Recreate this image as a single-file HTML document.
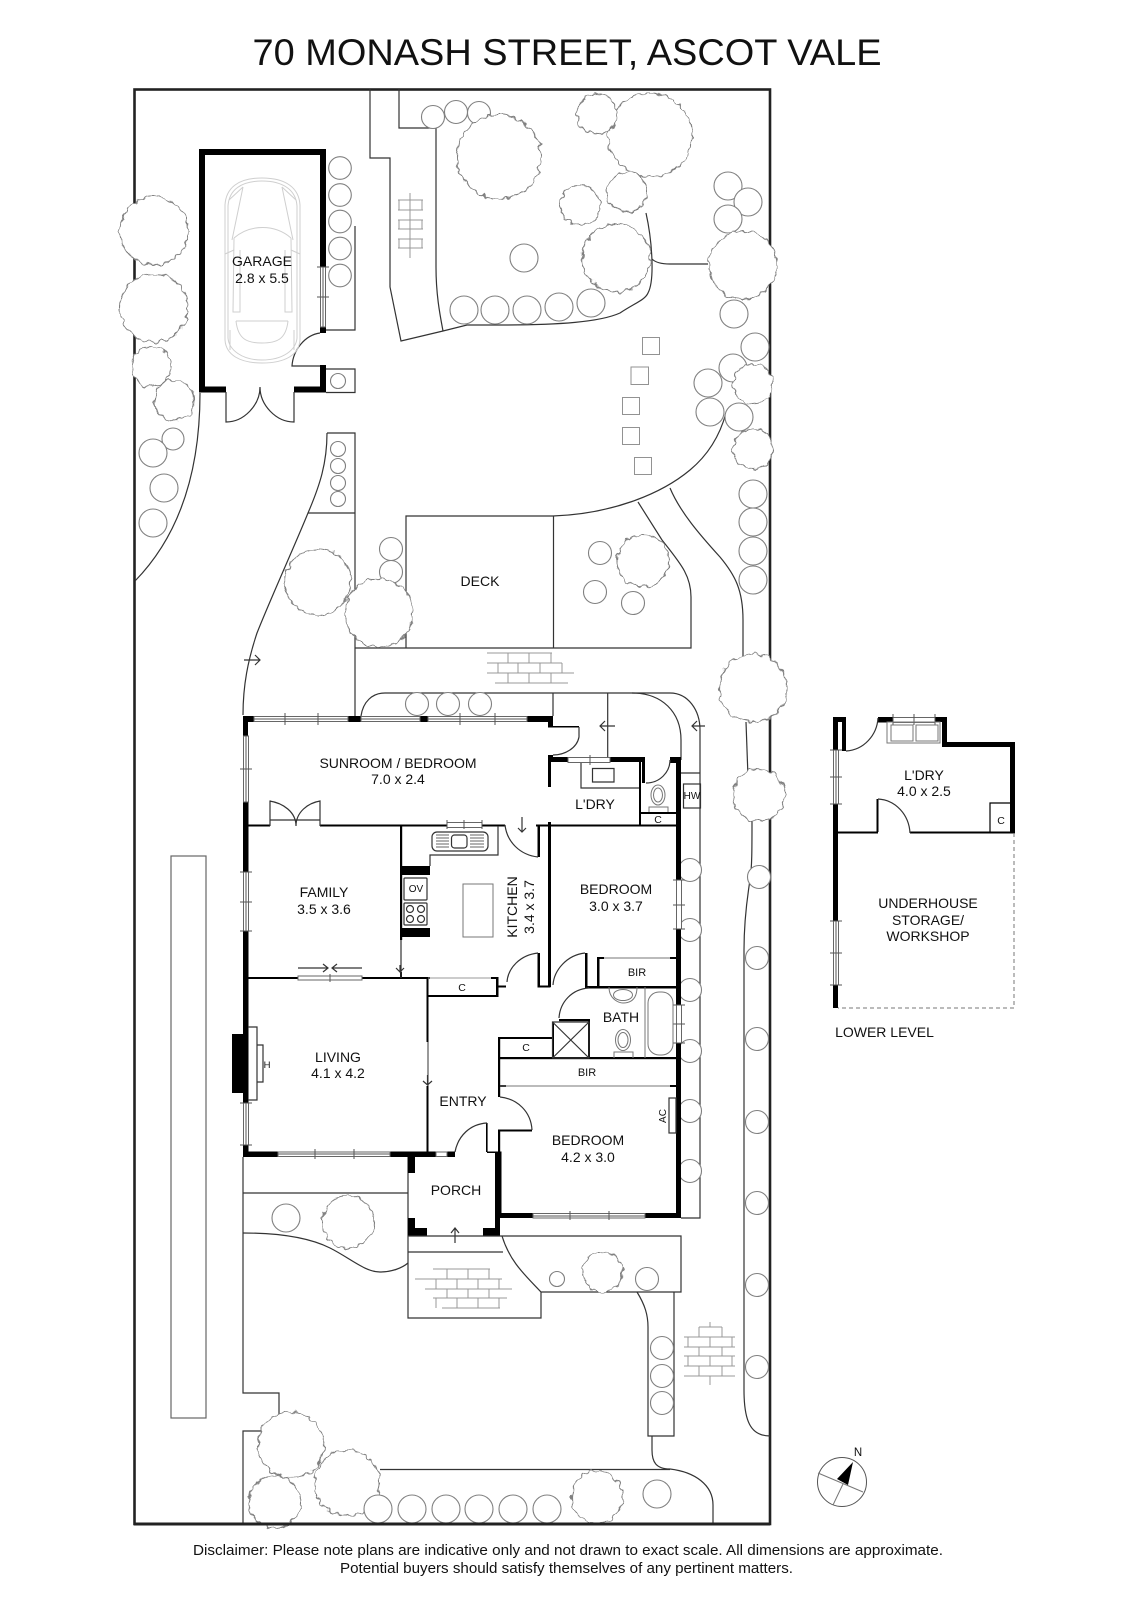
<!DOCTYPE html>
<html lang="en"><head><meta charset="utf-8"><title>70 Monash Street, Ascot Vale</title>
<style>
html,body{margin:0;padding:0;background:#fff}
svg{display:block}
text{font-family:"Liberation Sans",Arial,sans-serif;fill:#111;text-anchor:middle;font-size:14px}
.l{fill:none;stroke:#333;stroke-width:1.2}
.g{fill:none;stroke:#777;stroke-width:1}
.lg{fill:none;stroke:#999;stroke-width:1}
.c{fill:none;stroke:#cfcfcf;stroke-width:1}
.k{fill:none;stroke:#000;stroke-width:2}
.tr circle{fill:#fff;stroke:#808080;stroke-width:1.1}
.wn rect{fill:#fff;stroke:#666;stroke-width:1}
.wn path{fill:none;stroke:#555;stroke-width:1}
</style></head><body>
<svg xmlns="http://www.w3.org/2000/svg" width="1132" height="1600" viewBox="0 0 1132 1600">
<defs><filter id="w" filterUnits="userSpaceOnUse" x="0" y="0" width="1132" height="1600" color-interpolation-filters="sRGB"><feTurbulence type="fractalNoise" baseFrequency="0.17" numOctaves="1" seed="4"/><feDisplacementMap in="SourceGraphic" scale="8" xChannelSelector="R" yChannelSelector="G"/></filter></defs>
<rect width="1132" height="1600" fill="#fff"/>
<text x="567" y="65" style="font-size:37.5px" textLength="629" lengthAdjust="spacingAndGlyphs">70 MONASH STREET, ASCOT VALE</text>

<rect x="134.5" y="89.5" width="635.5" height="1434.5" fill="none" stroke="#222" stroke-width="2.6"/>

<!-- landscape lines -->
<g class="l">
<path d="M370 89V158H390V287L401 341L443 331L467 325H500C560 325 600 322 620 313C635 303 645 300 648 293C655 280 652 240 646 213"/>
<path d="M399 89V128H436V267C436 295 440 315 443 331"/>
<path d="M652 259C656 263 662 264 670 264H708"/>
<path d="M355 226V330H326"/>
<path d="M326 369H355V392.5H326"/>
<path d="M327 433H355V716"/>
<path d="M327 433C327 463 320 485 308 513C295 545 270 600 257 633C248 660 243 685 243 715"/>
<path d="M308 513H355"/>
<path d="M200 393C200 480 175 540 135 581"/>
<path d="M406 648V516H553C610 514 660 495 690 470C708 455 720 435 726 413"/>
<path d="M553.5 516V648M355 648H691V597C691 575 680 563 662 540L638 502"/>
<path d="M670 488C680 512 700 535 720 557C735 575 743 590 743 620V657"/>
<path d="M746 722L748 777"/>
<path d="M752 820C752 850 752 867 750 880C746 905 744 925 744 950V1390C744 1420 750 1436 770 1436"/>
<path d="M361 716C363 702 372 693 385 693H670C688 693 700 710 700 730V1218H681"/>
<path d="M632 693C662 693 681 712 681 740V760"/>
<path d="M607.7 693V757M553 693V716M681 773H700"/>
<path d="M243 1157V1393H279V1420M262 1431H243V1524"/>
<path d="M243 1193H408M408 1157V1318H541V1292M408 1252H503"/>
<path d="M243 1233C280 1233 310 1238 330 1248C350 1258 365 1272 380 1272C392 1272 402 1268 408 1263"/>
<path d="M502 1236H681V1292H541C525 1275 510 1262 502 1236"/>
<path d="M637 1292C645 1305 648 1315 648 1327V1436H674V1292"/>
<path d="M652 1436V1450C652 1462 656 1469 670 1469C695 1472 713 1485 713 1505V1523"/>
<path d="M380 1469.5H670"/>
</g>
<rect x="171" y="856" width="35" height="562" fill="none" stroke="#666" stroke-width="1.2"/>

<!-- stepping stones -->
<g class="g" stroke-opacity=".8">
<rect x="642.5" y="337.5" width="17" height="17"/><rect x="631" y="367" width="17.5" height="17.5"/><rect x="622.5" y="397.5" width="17" height="17"/><rect x="622.5" y="427.5" width="17" height="17"/><rect x="634.5" y="457.5" width="17" height="17"/>
</g>
<!-- bricks -->
<g class="lg">
<path d="M410 193V258M398 200H423M398 210H423M398 220H423M398 229H423M398 239H423M398 248H423M399 200V210M422 200V210M399 220V229M422 220V229M399 239V248M422 239V248"/>
<path d="M487 653H552M487 663H562M487 673H574M495 683H568M508 653V663M529 653V663M551 653V663M498 663V673M518 663V673M540 663V673M562 663V673M508 673V683M529 673V683M551 673V683"/>
<path d="M433 1269H490M415 1279H502M425 1289H512M433 1298H507M442 1308H500M447 1269V1279M468 1269V1279M489 1269V1279M436 1279V1289M457 1279V1289M478 1279V1289M499 1279V1289M447 1289V1298M468 1289V1298M489 1289V1298M436 1298V1308M457 1298V1308M478 1298V1308M499 1298V1308"/>
<path d="M699 1327H722M684 1337H735M684 1347H735M684 1356H735M684 1366H735M684 1376H735M710 1322V1327M710 1376V1385M699 1327V1337M722 1327V1337M688 1337V1347M710 1337V1347M732 1337V1347M699 1347V1356M722 1347V1356M688 1356V1366M710 1356V1366M732 1356V1366M699 1366V1376M722 1366V1376"/>
</g>

<!-- small shrubs below big trees -->
<g class="tr">
<circle cx="340" cy="168" r="11.3"/><circle cx="340" cy="195" r="11.3"/><circle cx="340" cy="221.5" r="11.3"/><circle cx="340" cy="248.5" r="11.3"/><circle cx="340" cy="275.5" r="11.3"/>
<circle cx="338" cy="381" r="7.5"/><circle cx="338" cy="449" r="7.5"/><circle cx="338" cy="466" r="7.5"/><circle cx="338" cy="483" r="7.5"/><circle cx="338" cy="499" r="7.5"/>
<circle cx="173" cy="439" r="11"/><circle cx="153" cy="453" r="14"/><circle cx="164" cy="488" r="14"/><circle cx="153" cy="523" r="14"/>
<circle cx="433" cy="117" r="11.5"/><circle cx="456" cy="112" r="11.5"/><circle cx="479" cy="113" r="11.5"/>
<circle cx="524" cy="258" r="14"/><circle cx="464" cy="310" r="14"/><circle cx="495" cy="310" r="14"/><circle cx="527" cy="310" r="14"/><circle cx="559" cy="307" r="14"/><circle cx="591" cy="303" r="14"/>
<circle cx="728" cy="186" r="14"/><circle cx="748" cy="202" r="14"/><circle cx="728" cy="219" r="14"/><circle cx="734" cy="314" r="14"/><circle cx="755" cy="347" r="14"/><circle cx="733" cy="368" r="14"/><circle cx="708" cy="383" r="14"/><circle cx="710" cy="412" r="14"/><circle cx="739" cy="417" r="14"/>
<circle cx="753" cy="494" r="14"/><circle cx="753" cy="522" r="14"/><circle cx="753" cy="551" r="14"/><circle cx="753" cy="580" r="14"/>
<circle cx="391" cy="549" r="11.5"/><circle cx="391" cy="572" r="11.5"/>
<circle cx="600" cy="553" r="11.5"/><circle cx="595" cy="592" r="11.5"/><circle cx="633" cy="603" r="11.5"/>
<circle cx="417" cy="704" r="11.5"/><circle cx="448" cy="704" r="11.5"/><circle cx="480" cy="704" r="11.5"/>
<circle cx="690" cy="870" r="11.5"/><circle cx="690" cy="930" r="11.5"/><circle cx="690" cy="990" r="11.5"/><circle cx="690" cy="1051" r="11.5"/><circle cx="690" cy="1111" r="11.5"/><circle cx="690" cy="1171" r="11.5"/>
<circle cx="759" cy="877" r="11.5"/><circle cx="757" cy="958" r="11.5"/><circle cx="757" cy="1039" r="11.5"/><circle cx="757" cy="1122" r="11.5"/><circle cx="757" cy="1203" r="11.5"/><circle cx="757" cy="1285" r="11.5"/><circle cx="757" cy="1367" r="11.5"/>
<circle cx="286" cy="1218" r="14"/><circle cx="557" cy="1279" r="7.5"/><circle cx="647" cy="1279" r="11.5"/>
<circle cx="662" cy="1348" r="11.5"/><circle cx="662" cy="1376" r="11.5"/><circle cx="662" cy="1403" r="11.5"/>
<circle cx="657" cy="1494" r="14"/>
</g>
<!-- big trees -->
<g class="tr" filter="url(#w)">
<circle cx="154" cy="231" r="34"/><circle cx="154" cy="308" r="34"/><circle cx="151" cy="367" r="20"/><circle cx="174" cy="400" r="20"/>
<circle cx="499" cy="157" r="42"/><circle cx="650" cy="135" r="42"/><circle cx="597" cy="114" r="20"/><circle cx="627" cy="192" r="20"/><circle cx="580" cy="205" r="20"/><circle cx="616" cy="258" r="34"/>
<circle cx="743" cy="265" r="34"/><circle cx="753" cy="384" r="20"/><circle cx="753" cy="449" r="20"/>
<circle cx="318" cy="582" r="33"/><circle cx="379" cy="613" r="34"/><circle cx="643" cy="561" r="26"/>
<circle cx="753" cy="688" r="34"/><circle cx="759" cy="795" r="26"/>
<circle cx="348" cy="1222" r="26"/><circle cx="603" cy="1272" r="20"/>
<circle cx="291" cy="1445" r="33"/><circle cx="275" cy="1502" r="26"/><circle cx="347" cy="1483" r="33"/><circle cx="597" cy="1497" r="26"/>
</g>
<g class="tr">
<circle cx="378" cy="1509" r="14"/><circle cx="412" cy="1509" r="14"/><circle cx="446" cy="1509" r="14"/><circle cx="479" cy="1509" r="14"/><circle cx="513" cy="1509" r="14"/><circle cx="547" cy="1509" r="14"/>
</g>
<rect x="134" y="1522.5" width="636" height="3" fill="#222"/>

<!-- garage -->
<path fill="#000" d="M199 149H326V267H320V155H205V386.5H226V392.5H199ZM320 327H326V333H320ZM294 386.5H320V365H326V392.5H294Z"/>
<g class="wn"><rect x="320.5" y="267" width="5" height="60"/><path d="M323 267V327M317 267H329M317 297H329"/></g>
<path class="l" d="M320 333C305 335 293 350 292 366H320M226 392V422C244 422 260 405 260 387C260 405 276 422 294 422V392"/>
<g class="c">
<path d="M262 178C238 178 226 188 225 205V340C226 355 240 363 262 363C285 363 299 355 300 340V205C299 188 286 178 262 178Z"/>
<path d="M262 181C241 181 229 190 228 206V338C229 350 242 360 262 360C283 360 296 350 297 338V206C296 190 283 181 262 181Z"/>
<path d="M243 187L232 240M282 187L293 240M234 238C250 224 275 224 291 238M234 238L233 312H240V250M291 238L292 312H285V250"/>
<path d="M236 321H288M236 321C238 340 248 343 262 343C276 343 286 340 288 321"/>
<path d="M225 254L234 250M300 254L291 250M230 330V350M294 330V350M229 200L243 187M296 200L282 187"/>
</g>
<text x="262" y="266">GARAGE</text><text x="262" y="283">2.8 x 5.5</text>

<text x="480" y="586">DECK</text>

<!-- house: walls -->
<g fill="#000">
<path d="M243 716H254V722H248V736H243Z"/>
<rect x="243" y="802" width="5.5" height="70"/>
<rect x="243" y="931" width="5.5" height="172"/>
<rect x="243" y="1145" width="5.5" height="12"/>
<rect x="348" y="716" width="13" height="6"/>
<rect x="420" y="716" width="8" height="6"/>
<path d="M527 716H553V726H579V727.5H548V722H527Z"/>
<path d="M548 755H553V757H568V762H610V757H645V783H642V762H551V787H548Z"/>
<path d="M670 757H681V1218H500V1213H676V763H670Z"/>
<rect x="248" y="824.5" width="22" height="2"/>
<rect x="320" y="824.5" width="127" height="2"/>
<rect x="482" y="824.5" width="23" height="2"/>
<rect x="536" y="824.5" width="15" height="2"/>
<rect x="551" y="824.5" width="125" height="2"/>
<rect x="537.5" y="825" width="2.5" height="32"/>
<rect x="548" y="822" width="3" height="165"/>
<rect x="537.5" y="953" width="2.5" height="34"/>
<rect x="537.5" y="985.5" width="13" height="2"/>
<rect x="585" y="953" width="2.5" height="35"/>
<rect x="585" y="986" width="91" height="2.5"/>
<rect x="597" y="958" width="2.5" height="30"/>
<rect x="597" y="957" width="7" height="2"/>
<rect x="670" y="957" width="6" height="2"/>
<rect x="639" y="762" width="2" height="63"/>
<rect x="641" y="812" width="35" height="2"/>
<rect x="400" y="825" width="2.2" height="115"/>
<rect x="401" y="866" width="29" height="9"/>
<rect x="401" y="928" width="29" height="9"/>
<rect x="248" y="977" width="50" height="2"/>
<rect x="362" y="977" width="68" height="2"/>
<rect x="400" y="972" width="2" height="6"/>
<rect x="427" y="995" width="70" height="2"/>
<rect x="496" y="977" width="2.5" height="20"/>
<rect x="491" y="977" width="6" height="2"/>
<rect x="497" y="985.5" width="9" height="2"/>
<rect x="426.5" y="978" width="2" height="64"/>
<rect x="426.5" y="1086" width="2" height="66"/>
<rect x="232" y="1034" width="11" height="59"/>
<rect x="243" y="1151.5" width="35" height="5.5"/>
<rect x="390" y="1151.5" width="46" height="5.5"/>
<rect x="447" y="1151.5" width="8" height="5.5"/>
<rect x="408" y="1157" width="7" height="16"/>
<path d="M408 1218H415V1228H427V1236H408Z"/>
<path d="M483 1228H495V1153H487V1151.5H501.5V1213H500V1236H483Z"/>
<rect x="486" y="1123" width="1.6" height="29"/>
<rect x="498" y="1037" width="54" height="2"/>
<rect x="498" y="1037" width="2.2" height="60"/>
<rect x="498" y="1129.5" width="34" height="2"/>
<rect x="498" y="1130" width="2.2" height="25"/>
<rect x="552" y="1022" width="2" height="36"/>
<rect x="559" y="1019" width="30" height="2.2"/>
<rect x="588" y="1019" width="2" height="39"/>
<rect x="498" y="1057" width="178" height="2.2"/>
<rect x="500" y="1085" width="6" height="2"/>
<rect x="670" y="1085" width="6" height="2"/>
</g>
<!-- windows -->
<g class="wn">
<rect x="254" y="716.5" width="94" height="5"/><path d="M254 719H348M285 713V725M318 713V725"/>
<rect x="361" y="716.5" width="59" height="5"/><path d="M361 719H420"/>
<rect x="428" y="716.5" width="99" height="5"/><path d="M428 719H527M460 713V725M495 713V725"/>
<rect x="243.5" y="736" width="5" height="66"/><path d="M246 736V802M240 769H252"/>
<rect x="243.5" y="872" width="5" height="59"/><path d="M246 872V931M240 872H252M240 902H252M240 931H252"/>
<rect x="243.5" y="1103" width="5" height="42"/><path d="M246 1103V1145M240 1103H252M240 1145H252"/>
<rect x="278" y="1152" width="112" height="4.5"/><path d="M278 1154H390M315 1149V1159M354 1149V1159"/>
<rect x="436" y="1152" width="11" height="4.5"/>
<rect x="298" y="976" width="64" height="4"/><path d="M330 974V982"/>
<rect x="447" y="822.5" width="35" height="5"/><path d="M447 820V829M464 820V829M482 820V829"/>
<rect x="568" y="757.5" width="42" height="5"/><path d="M590 755V765"/>
<rect x="676.5" y="880" width="5" height="49"/><path d="M673 880H685M673 905H685M673 929H685"/>
<rect x="676.5" y="1005" width="5" height="38"/><path d="M673 1005H685M673 1024H685M673 1043H685"/>
<rect x="533" y="1213.5" width="112" height="4.5"/><path d="M533 1216H645M570 1211V1220M609 1211V1220"/>
</g>
<!-- doors & fittings -->
<g class="l">
<path d="M579 727V737C577 748 565 755 553 755"/>
<path d="M646 783C660 783 670 772 670 760"/>
<path d="M270 826V801H269.5C283 803 296 812 296 826M320 826V801C308 803 296 812 296 826M270 820H320"/>
<path d="M538 857C520 855 507 842 505 825"/>
<path d="M538 953C520 955 508 968 507 982"/>
<path d="M585 953C567 955 554 970 553 985"/>
<path d="M487 1123C470 1124 458 1136 455 1152"/>
<path d="M589 988C572 989 560 1002 559 1018"/>
<path d="M500 1097C518 1099 531 1112 532 1130"/>
<path d="M430 866V855H498V826"/>
<path d="M401 940V978"/>
<path d="M428 1042V1086" stroke-width="1"/>
<path d="M552.5 1022H589V1058H552.5ZM552.5 1022L589 1058M589 1022L552.5 1058"/>
<path d="M248 1027H257V1100H248M257 1045H263V1082H257"/>
<path d="M408 1236H502"/>
<path d="M581 763V788H639M592.5 768.5H614V782H592.5Z"/>
<rect x="683.5" y="784" width="17" height="24"/>
<rect x="404" y="878" width="23" height="22" rx="1"/>
<rect x="404" y="903" width="23" height="22" rx="1"/>
<circle cx="410" cy="909" r="3.5"/><circle cx="421" cy="909" r="3.5"/><circle cx="410" cy="919" r="3.5"/><circle cx="421" cy="919" r="3.5"/>
<rect x="432" y="832" width="56" height="19" rx="5"/>
<rect x="451.5" y="835" width="15.5" height="13" rx="3"/>
<path d="M436 835H449M436 838H449M436 841H449M436 844H449M436 847H449M470 835H484M470 838H484M470 841H484M470 844H484M470 847H484" stroke-width=".7"/>
<rect x="669" y="1098" width="7" height="35"/>
</g>
<rect x="463" y="884" width="30" height="53" class="g"/>
<g class="g">
<path d="M645 987V1058"/>
<path d="M609 987C609 1000 620 1003 623 1003C630 1003 637 1000 637 987"/>
<ellipse cx="623" cy="995" rx="9.5" ry="5.5"/>
<rect x="648" y="992" width="25" height="63" rx="11"/>
<ellipse cx="623" cy="1040" rx="7.5" ry="10.5"/>
<ellipse cx="623" cy="1040" rx="5" ry="7.5"/>
<path d="M614 1058V1052H633V1058"/>
<ellipse cx="658" cy="795" rx="7" ry="10"/>
<ellipse cx="658" cy="795" rx="4.5" ry="7"/>
<path d="M649 812V807H668V812"/>
<path d="M500 1086H670"/>
<path d="M604 958H670"/>
<path d="M428 978H491" stroke="#999"/>
</g>
<!-- arrows -->
<g class="l" stroke-width="1">
<path d="M298 968H328M323 964L328 968L323 972M362 968H332M337 964L332 968L337 972"/>
<path d="M522 817V832M518 828L522 832L526 828"/>
<path d="M400 965V972M396 968L400 972L404 968"/>
<path d="M427.5 1075V1085M423 1081L427.5 1085L432 1081"/>
<path d="M455 1243V1228M451 1233L455 1228L459 1233"/>
<path d="M244 660H260M255 655L260 660L255 665"/>
<path d="M600 726H615M605 721L600 726L605 731"/>
<path d="M692 726H705M697 721L692 726L697 731"/>
</g>

<!-- labels -->
<text x="398" y="768">SUNROOM / BEDROOM</text><text x="398" y="784">7.0 x 2.4</text>
<text x="324" y="897">FAMILY</text><text x="324" y="914">3.5 x 3.6</text>
<text transform="translate(517 907) rotate(-90)">KITCHEN</text><text transform="translate(534 907) rotate(-90)">3.4 x 3.7</text>
<text x="616" y="894">BEDROOM</text><text x="616" y="911">3.0 x 3.7</text>
<text x="595" y="809">L'DRY</text>
<text x="658" y="823" style="font-size:10.5px">C</text>
<text x="637" y="976" style="font-size:11px">BIR</text>
<text x="692" y="799" style="font-size:10px">HW</text>
<text x="416" y="892" style="font-size:10px">OV</text>
<text x="462" y="991" style="font-size:10.5px">C</text>
<text x="267" y="1068" style="font-size:9.5px">H</text>
<text x="338" y="1062">LIVING</text><text x="338" y="1078">4.1 x 4.2</text>
<text x="463" y="1106">ENTRY</text>
<text x="456" y="1195">PORCH</text>
<text x="621" y="1022">BATH</text>
<text x="526" y="1051" style="font-size:10.5px">C</text>
<text x="587" y="1076" style="font-size:11px">BIR</text>
<text x="588" y="1145">BEDROOM</text><text x="588" y="1162">4.2 x 3.0</text>
<text transform="translate(666 1116) rotate(-90)" style="font-size:10px">AC</text>

<!-- lower level -->
<g fill="#000">
<path d="M833 717H846V751H842V722H838V750H833Z"/>
<rect x="833" y="804" width="5" height="117"/>
<rect x="833" y="985" width="5" height="23"/>
<rect x="878" y="717" width="15" height="5.5"/>
<path d="M935 717H947V742H1015V833H1010V747H942V722H935Z"/>
<rect x="838" y="831.5" width="40" height="2"/>
<rect x="910" y="831.5" width="105" height="2"/>
<rect x="876.5" y="799" width="2" height="33"/>
</g>
<g class="wn">
<rect x="833.5" y="750" width="5" height="54"/><path d="M836 750V804M830 750H842M830 777H842M830 804H842"/>
<rect x="833.5" y="921" width="5" height="64"/><path d="M836 921V985M830 921H842M830 953H842M830 985H842"/>
<rect x="893" y="717.5" width="42" height="5"/><path d="M893 714V725M914 714V725M935 714V725"/>
</g>
<g class="l">
<path d="M846 751C864 750 877 735 878 718"/>
<path d="M878 799C896 800 909 815 910 833"/>
<path d="M990 832V803H1010" stroke="#000"/>
</g>
<g class="g"><rect x="887" y="722" width="53" height="21"/><rect x="891" y="725" width="22" height="16"/><rect x="916" y="725" width="22" height="16"/>
<path d="M1014 833V1008H838" stroke-dasharray="4 3"/></g>
<text x="924" y="780">L'DRY</text><text x="924" y="796">4.0 x 2.5</text>
<text x="1001" y="824" style="font-size:10.5px">C</text>
<text x="928" y="908">UNDERHOUSE</text><text x="928" y="925">STORAGE/</text><text x="928" y="941">WORKSHOP</text>
<text x="884.5" y="1037">LOWER LEVEL</text>

<!-- compass -->
<circle cx="842" cy="1482" r="24.5" fill="#fff" stroke="#555" stroke-width="1"/>
<path class="g" d="M818 1473L863 1492M833 1505L843 1484"/>
<path d="M853 1462L837 1479L848 1485Z" fill="#000"/>
<text x="858" y="1456" style="font-size:11.5px">N</text>

<text x="568" y="1555" style="font-size:14.5px" textLength="750" lengthAdjust="spacingAndGlyphs">Disclaimer: Please note plans are indicative only and not drawn to exact scale. All dimensions are approximate.</text>
<text x="566.5" y="1573" style="font-size:14.5px" textLength="453" lengthAdjust="spacingAndGlyphs">Potential buyers should satisfy themselves of any pertinent matters.</text>
</svg>
</body></html>
